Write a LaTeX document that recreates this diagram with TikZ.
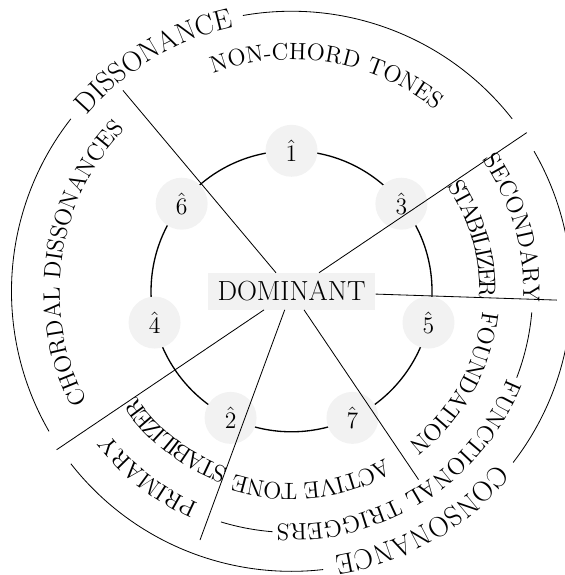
\documentclass[tikz,border=0pt]{standalone}
\usetikzlibrary{decorations.text}
\newcommand{\lblfont}{\fontsize{14.4}{17}\selectfont}
\newcommand{\bigfont}{\fontsize{17.28}{21}\selectfont}

\begin{document}
\begin{tikzpicture}[
          deg/.style={circle, fill=gray!10, minimum size=1.11cm, inner sep=0pt, font=\Large},
          ctr/.style={fill=gray!10, inner xsep=6pt, inner ysep=5pt, font=\fontsize{16.8}{20}\selectfont},
          sep/.style={line width=0.5pt},
          ring/.style={line width=0.5pt},
          lbl/.style={decorate, decoration={text along path, text align=center, text={|\lblfont|#1}}},
          big/.style={decorate, decoration={text along path, text align=center, text={|\bigfont|#1}}}]
        \useasboundingbox (-6.225,-6.058) rectangle (5.819,6.22);
        \draw[thick] (0,0) circle[radius=3];
        \node[deg] (d1) at (90:3) {$\hat{1}$};
        \node[deg] (d3) at (38.57:3) {$\hat{3}$};
        \node[deg] (d5) at (-12.86:3) {$\hat{5}$};
        \node[deg] (d7) at (-64.29:3) {$\hat{7}$};
        \node[deg] (d2) at (-115.71:3) {$\hat{2}$};
        \node[deg] (d4) at (-167.14:3) {$\hat{4}$};
        \node[deg] (d6) at (141.43:3) {$\hat{6}$};
        \node[ctr] (dom) at (0,0) {DOMINANT};
        \coordinate (e1) at (130:5.6);
        \coordinate (e2) at (34:6.06);
        \coordinate (e3) at (-1.9:5.67);
        \coordinate (e4) at (214:6.05);
        \coordinate (e5) at (249.8:5.66);
        \coordinate (e6) at (304:4.85);
        \draw[sep] (dom) -- (e1);
        \draw[sep] (dom) -- (e2);
        \draw[sep] (dom) -- (e3);
        \draw[sep] (dom) -- (e4);
        \draw[sep] (dom) -- (e5);
        \draw[sep] (dom) -- (e6);
        \draw[ring] (38:5.98) arc[start angle=38, end angle=100, radius=5.98];
        \draw[ring] (142:5.98) arc[start angle=142, end angle=210, radius=5.98];
        \draw[ring] (218:5.98) arc[start angle=218, end angle=276.5, radius=5.98];
        \draw[ring] (322.3:5.98) arc[start angle=322.3, end angle=390, radius=5.98];
        \draw[ring] (253:5.15) arc[start angle=253, end angle=265.5, radius=5.15];
        \draw[ring] (339:5.15) arc[start angle=339, end angle=355, radius=5.15];
        \path[big={DISSONANCE}] (170.8:5.77) arc[start angle=170.8, end angle=70.8, radius=5.77];
        \path[big={CONSONANCE}] (349.6:5.72) arc[start angle=349.6, end angle=249.6, radius=5.72];
        \path[lbl={NON-CHORD TONES}] (130.6:4.95) arc[start angle=130.6, end angle=30.6, radius=4.95];
        \path[lbl={CHORDAL DISSONANCES}] (222:4.95) arc[start angle=222, end angle=122, radius=4.95];
        \path[lbl={SECONDARY}] (66:4.95) arc[start angle=66, end angle=-34, radius=4.95];
        \path[lbl={STABILIZER}, decoration={raise=-0.94cm}] (66:4.95) arc[start angle=66, end angle=-34, radius=4.95];
        \path[lbl={PRIMARY}] (282.3:4.95) arc[start angle=282.3, end angle=182.3, radius=4.95];
        \path[lbl={STABILIZER}, decoration={raise=-0.94cm}] (282.3:4.95) arc[start angle=282.3, end angle=182.3, radius=4.95];
        \path[lbl={ACTIVE TONE}, decoration={raise=-0.35cm}] (326:4.45) arc[start angle=326, end angle=226, radius=4.45];
        \path[lbl={FOUNDATION}, decoration={raise=-0.25cm}] (20.7:4.35) arc[start angle=20.7, end angle=-79.3, radius=4.35];
        \path[lbl={FUNCTIONAL TRIGGERS}] (352.2:4.97) arc[start angle=352.2, end angle=252.2, radius=4.97];
      \end{tikzpicture}
\end{document}
